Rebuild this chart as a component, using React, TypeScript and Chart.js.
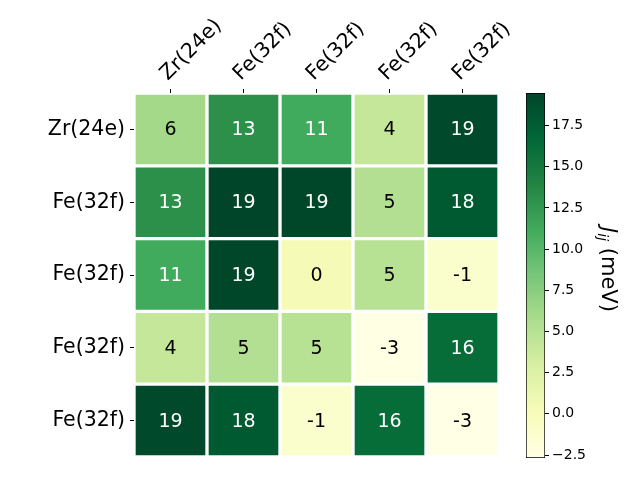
import React, { useEffect, useRef } from "react";
import { Chart, registerables } from "chart.js";

Chart.register(...registerables);

// ---- data ----
const colLabels = ["Zr(24e)", "Fe(32f)", "Fe(32f)", "Fe(32f)", "Fe(32f)"];
const rowLabels = ["Zr(24e)", "Fe(32f)", "Fe(32f)", "Fe(32f)", "Fe(32f)"];
const row0 = [6.1, 13.1, 11.2, 4.1, 19.2];
const row1 = [13.1, 19.48, 19.3, 5.3, 17.8];
const row2 = [11.2, 19.3, 0.3, 5.0, -1.1];
const row3 = [4.1, 5.3, 5.0, -2.6, 16.2];
const row4 = [19.2, 17.8, -1.1, 16.2, -2.68];
const rows = [row0, row1, row2, row3, row4];
const cbTicks = [-2.5, 0, 2.5, 5, 7.5, 10, 12.5, 15, 17.5];
const cbTitleMain = "J";
const cbTitleSub = "ij";
const cbTitleUnit = " (meV)";

// YlGn colormap stops
const YLGN = ["#ffffe5", "#f7fcb9", "#d9f0a3", "#addd8e", "#78c679", "#41ab5d", "#238443", "#006837", "#004529"];

const all = rows.flat();
const vmin = Math.min(...all);
const vmax = Math.max(...all);
const threshold = (vmin + vmax) / 2;

function hexToRgb(h: string) {
  return [parseInt(h.slice(1, 3), 16), parseInt(h.slice(3, 5), 16), parseInt(h.slice(5, 7), 16)];
}
function cmap(v: number) {
  let t = (v - vmin) / (vmax - vmin);
  t = Math.max(0, Math.min(1, t));
  const p = t * (YLGN.length - 1);
  const i = Math.min(YLGN.length - 2, Math.floor(p));
  const f = p - i;
  const a = hexToRgb(YLGN[i]);
  const b = hexToRgb(YLGN[i + 1]);
  const c = a.map((x, k) => Math.round(x + (b[k] - x) * f));
  return `rgb(${c[0]},${c[1]},${c[2]})`;
}

const FONT = '"DejaVu Sans", sans-serif';

const annotPlugin = {
  id: "annot",
  afterDatasetsDraw(chart: any) {
    const ctx = chart.ctx;
    ctx.save();
    ctx.font = `19px ${FONT}`;
    ctx.textAlign = "center";
    ctx.textBaseline = "middle";
    chart.data.datasets.forEach((_ds: any, di: number) => {
      const meta = chart.getDatasetMeta(di);
      meta.data.forEach((el: any, i: number) => {
        const v = rows[di][i];
        const { x, y, base } = el.getProps(["x", "y", "base"], true);
        ctx.fillStyle = v > threshold ? "#ffffff" : "#000000";
        ctx.fillText(String(Math.round(v)), x, (y + base) / 2 + 1);
      });
    });
    ctx.restore();
  },
};

const cbTitlePlugin = {
  id: "cbTitle",
  afterDraw(chart: any) {
    const ctx = chart.ctx;
    const ya = chart.scales.y;
    ctx.save();
    ctx.fillStyle = "#000";
    ctx.textAlign = "left";
    ctx.textBaseline = "alphabetic";
    const fMain = `italic 21px ${FONT}`;
    const fSub = `italic 14px ${FONT}`;
    const fUnit = `21px ${FONT}`;
    ctx.font = fMain;
    const w1 = ctx.measureText(cbTitleMain).width;
    ctx.font = fSub;
    const w2 = ctx.measureText(cbTitleSub).width;
    ctx.font = fUnit;
    const w3 = ctx.measureText(cbTitleUnit).width;
    const total = w1 + w2 + w3;
    const cy = (ya.top + ya.bottom) / 2 - 6;
    ctx.translate(ya.left + 57, cy - total / 2);
    ctx.rotate(Math.PI / 2);
    ctx.font = fMain;
    ctx.fillText(cbTitleMain, 0, 0);
    ctx.font = fSub;
    ctx.fillText(cbTitleSub, w1, 4);
    ctx.font = fUnit;
    ctx.fillText(cbTitleUnit, w1 + w2, 0);
    ctx.restore();
  },
};

export default function App() {
  const mainRef = useRef<HTMLCanvasElement>(null);
  const cbRef = useRef<HTMLCanvasElement>(null);

  useEffect(() => {
    const datasets = rows.map((r, ri) => ({
      label: rowLabels[ri],
      data: r.map(() => [ri, ri + 1]),
      backgroundColor: r.map((v) => cmap(v)),
      borderColor: "#ffffff",
      borderWidth: 2,
      borderSkipped: false,
      barPercentage: 1,
      categoryPercentage: 1,
      grouped: false,
    }));

    const main = new Chart(mainRef.current as HTMLCanvasElement, {
      type: "bar",
      data: { labels: colLabels, datasets: datasets as any },
      options: {
        animation: false,
        responsive: false,
        devicePixelRatio: 1,
        layout: { padding: { left: 0, top: 0, right: 141, bottom: 23 } },
        plugins: { legend: { display: false }, tooltip: { enabled: false } },
        scales: {
          x: {
            type: "category",
            position: "top",
            offset: true,
            grid: { offset: false, drawOnChartArea: false, drawTicks: true, tickLength: 4, color: "#000" },
            border: { display: false },
            ticks: {
              autoSkip: false,
              minRotation: 45,
              maxRotation: 45,
              padding: 3,
              labelOffset: 11,
              color: "#000",
              font: { family: FONT, size: 20.5 },
            },
            afterFit: (s: any) => {
              s.height = 93;
            },
          },
          y: {
            type: "linear",
            min: 0,
            max: 5,
            reverse: true,
            afterBuildTicks: (s: any) => {
              s.ticks = rowLabels.map((_l, i) => ({ value: i + 0.5 }));
            },
            grid: { drawOnChartArea: false, drawTicks: true, tickLength: 4, color: "#000" },
            border: { display: false },
            ticks: {
              autoSkip: false,
              padding: 5,
              color: "#000",
              font: { family: FONT, size: 20.5 },
              callback: (_v: any, i: number) => rowLabels[i],
            },
            afterFit: (s: any) => {
              s.width = 134;
            },
          },
        },
      } as any,
      plugins: [annotPlugin],
    });

    const cb = new Chart(cbRef.current as HTMLCanvasElement, {
      type: "bar",
      data: {
        labels: [""],
        datasets: [
          {
            data: [[vmin, vmax]] as any,
            backgroundColor: (c: any) => {
              const chart = c.chart;
              const ya = chart.scales.y;
              if (!chart.chartArea || !ya) return "#ffffff";
              const g = chart.ctx.createLinearGradient(0, ya.getPixelForValue(vmin), 0, ya.getPixelForValue(vmax));
              YLGN.forEach((col, i) => g.addColorStop(i / (YLGN.length - 1), col));
              return g;
            },
            borderColor: "#000",
            borderWidth: 1,
            borderSkipped: false,
            barPercentage: 1,
            categoryPercentage: 1,
          } as any,
        ],
      },
      options: {
        animation: false,
        responsive: false,
        devicePixelRatio: 1,
        layout: { padding: { left: 26, top: 93, right: 0, bottom: 22 } },
        plugins: { legend: { display: false }, tooltip: { enabled: false } },
        scales: {
          x: { display: false, offset: true },
          y: {
            position: "right",
            min: vmin,
            max: vmax,
            afterBuildTicks: (s: any) => {
              s.ticks = cbTicks.map((v) => ({ value: v }));
            },
            grid: { drawOnChartArea: false, drawTicks: true, tickLength: 4, color: "#000" },
            border: { display: false },
            ticks: {
              autoSkip: false,
              padding: 3,
              color: "#000",
              font: { family: FONT, size: 14 },
              callback: (v: any) => {
                const n = Number(v);
                const s = Math.abs(n).toFixed(1);
                return n < 0 ? "\u2212" + s : s;
              },
            },
            afterFit: (s: any) => {
              s.width = 95;
            },
          },
        },
      } as any,
      plugins: [cbTitlePlugin],
    });

    return () => {
      main.destroy();
      cb.destroy();
    };
  }, []);

  return (
    <div style={{ position: "absolute", left: 0, top: 0, width: 640, height: 480, background: "#fff" }}>
      <canvas ref={mainRef} width={640} height={480} style={{ position: "absolute", left: 0, top: 0 }} />
      <canvas ref={cbRef} width={140} height={480} style={{ position: "absolute", left: 500, top: 0 }} />
    </div>
  );
}
